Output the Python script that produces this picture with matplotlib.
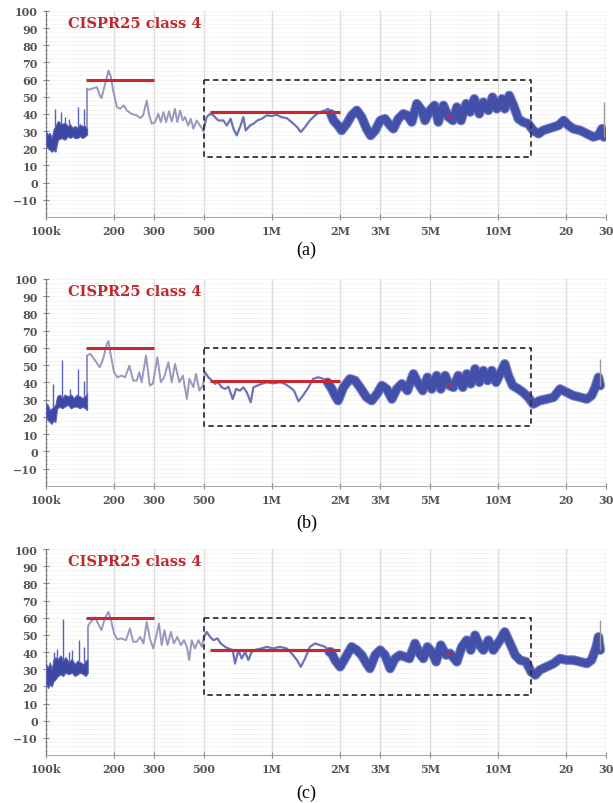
import matplotlib.pyplot as plt
import numpy as np
from matplotlib.ticker import MultipleLocator, NullFormatter

# frequencies in kHz, levels in dBuV
freq_ticks = [100, 200, 300, 500, 1000, 2000, 3000, 5000, 10000, 20000, 30000]
freq_labels = ['100k', '200', '300', '500', '1M', '2M', '3M', '5M', '10M', '20', '30']
level_ticks = list(range(-10, 101, 10))

# CISPR25 class 4 limit segments
limit_start = [150, 530, 5900]
limit_stop = [300, 2000, 6200]
limit_level = [60, 41, 39]

# dashed region of interest
box_freq = [500, 14000]
box_level = [15, 60]

# ---------------- (a) ----------------
a_lf_f = [100, 102, 104, 106, 108, 110, 113, 117, 121, 125, 128, 131, 134, 138, 141, 145, 149, 152]
a_lf_lo = [22, 20, 19, 18, 19, 18, 25, 26, 25, 27, 26, 27, 26, 26, 27, 26, 27, 28]
a_lf_hi = [30, 28, 29, 26, 31, 33, 36, 34, 35, 33, 34, 32, 33, 32, 34, 33, 33, 32]
a_spk_f = [110, 117, 122, 127, 139, 148]
a_spk_v = [43, 41, 38, 37, 44, 43]
a_mid_f = [152, 154, 162, 168, 173, 176, 182, 189, 193, 199, 206, 213, 221, 228, 239, 252, 261,
           269, 279, 286, 294, 304, 314, 322, 331, 340, 350, 360, 372, 381, 392, 403, 412, 426,
           437, 449, 464, 480, 497, 514, 532, 550, 578, 609, 631, 656, 675, 698, 722, 747, 765,
           799, 827, 861, 900, 948, 997, 1050, 1100, 1160, 1220, 1290, 1340, 1400, 1470, 1550,
           1630, 1720, 1770, 1820]
a_mid_v = [54.7, 54.1, 55, 55.6, 50.8, 49.2, 56.6, 65.3, 62.4, 52.7, 44, 43, 45, 42, 40.1, 39.2,
           37.6, 39.2, 47.9, 39.2, 34.3, 35.3, 40.1, 35.3, 41.1, 35.3, 41.5, 35.6, 43, 35.3, 42,
           36.2, 38.2, 33.3, 37.2, 31.4, 36.2, 33.3, 30.4, 38.2, 40.1, 39.2, 36.2, 36.2, 33.3,
           37.2, 31.4, 27.5, 32.4, 38.2, 30.4, 33.3, 34.3, 36.2, 37.2, 39.2, 38.8, 39.5, 38.2,
           37.6, 35.3, 32.4, 29.5, 32.4, 36.2, 39.2, 41.1, 42.1, 43, 40.1]
a_hf_f = [1820, 1870, 1960, 2030, 2140, 2250, 2370, 2490, 2620, 2730, 2860, 3010, 3160, 3330,
          3440, 3620, 3810, 3970, 4150, 4370, 4600, 4750, 5000, 5230, 5440, 5730, 6030, 6310,
          6570, 6860, 7220, 7520, 7850, 8260, 8610, 9060, 9440, 9870, 10400, 10700, 11200,
          11700, 12300, 12900, 13600, 14300, 15100, 15800, 16700, 17600, 18500, 19500, 20500,
          21500, 23100, 24700, 26400, 27800, 28800, 29400]
a_hf_v = [40.1, 36.2, 33.3, 30.4, 34.3, 39.2, 42.1, 38.2, 31.4, 27.5, 30.4, 36.2, 37.2, 33.3,
          31.4, 37.2, 40.1, 39.2, 35.3, 46, 42.1, 36.2, 42.1, 45, 35.3, 45, 38.2, 36.2, 44,
          36.2, 46, 41.1, 48.8, 40.1, 46.9, 42.1, 49.8, 43, 48.8, 43, 50.8, 45, 37.2, 35.3,
          34.3, 30.4, 28.5, 30.4, 31.4, 32.4, 33.3, 36.2, 33.3, 31.4, 30.4, 28.5, 26.6, 27.5,
          31.4, 26.6]
a_tail_v = 47

# ---------------- (b) ----------------
b_lf_f = [100, 102, 104, 106, 108, 110, 112, 115, 118, 121, 125, 129, 133, 137, 141, 145, 149, 152]
b_lf_lo = [20, 18, 17, 16, 18, 17, 25, 26, 25, 26, 27, 25, 26, 26, 25, 26, 25, 24]
b_lf_hi = [28, 27, 24, 25, 26, 27, 32, 33, 31, 33, 32, 33, 31, 33, 32, 31, 32, 34]
b_spk_f = [107, 118, 128, 139, 148]
b_spk_v = [39, 53, 36, 48, 41]
b_mid_f = [152, 157, 165, 173, 179, 186, 189, 193, 200, 207, 216, 224, 234, 243, 252, 259, 265,
           277, 288, 297, 311, 322, 333, 348, 360, 372, 389, 403, 420, 431, 449, 461, 477, 494,
           505, 523, 541, 560, 578, 599, 620, 641, 670, 693, 722, 747, 773, 805, 827, 861, 900,
           948, 1010, 1085, 1140, 1200, 1250, 1310, 1370, 1450, 1520, 1600, 1690, 1760]
b_mid_v = [55.6, 56.6, 52.7, 48.8, 53.7, 62.4, 64, 56.6, 45.9, 43, 44, 43, 49.8, 41.1, 41.1,
           45.9, 40.1, 55.6, 38.2, 39.2, 54.7, 40.1, 43, 51.7, 40.1, 50.8, 40.1, 44, 30.4, 42.1,
           37.2, 45, 35.3, 38.2, 45.9, 43, 41.1, 39.2, 40.1, 37.2, 36.2, 37.6, 30.4, 36.2, 35.3,
           37.2, 34.3, 28.5, 37.2, 38.2, 39.2, 40.1, 39.5, 40.1, 39.2, 37.2, 35.3, 29.1, 32.4,
           37.2, 42.1, 43, 42.1, 40.1]
b_hf_f = [1760, 1840, 1900, 1960, 2070, 2210, 2330, 2450, 2620, 2760, 2910, 3060, 3220, 3390,
          3560, 3750, 3970, 4220, 4440, 4640, 4870, 5090, 5350, 5580, 5830, 6090, 6340, 6670,
          6980, 7270, 7570, 7910, 8260, 8610, 9000, 9380, 9800, 10200, 10700, 11100, 11600,
          12300, 12900, 13600, 14300, 15300, 16400, 17600, 18800, 20100, 21500, 23100, 24700,
          25900, 26900, 27800, 28300]
b_hf_v = [40.1, 36.2, 32.4, 29.5, 37.2, 42.1, 41.1, 37.2, 31.4, 29.5, 33.3, 38.2, 36.2, 30.4,
          36.2, 39.2, 35.3, 45, 39.2, 35.3, 43, 36.2, 44, 36.2, 44, 38.2, 37.2, 44, 37.2, 45,
          39.2, 47.9, 40.1, 46.9, 41.1, 46.9, 40.1, 45, 50.8, 44, 38.2, 36.2, 34.3, 31.4, 27.5,
          29.5, 30.4, 31.4, 36.2, 34.3, 32.4, 31.4, 30.4, 32.4, 37.2, 43, 38.2]
b_tail_v = 53.7

# ---------------- (c) ----------------
c_lf_f = [100, 102, 104, 106, 108, 110, 113, 116, 119, 122, 126, 130, 134, 138, 142, 146, 150, 153]
c_lf_lo = [22, 19, 21, 20, 23, 24, 26, 27, 26, 28, 27, 28, 26, 27, 28, 27, 26, 28]
c_lf_hi = [33, 31, 34, 30, 36, 37, 36, 38, 35, 37, 34, 36, 33, 35, 34, 33, 35, 36]
c_spk_f = [109, 112, 119, 126, 131, 140, 148]
c_spk_v = [40, 42, 59, 40, 41, 47, 43]
c_mid_f = [153, 154, 159, 165, 170, 176, 182, 189, 194, 200, 207, 216, 226, 235, 243, 252, 261,
           270, 279, 288, 298, 307, 316, 325, 334, 345, 357, 368, 381, 395, 408, 420, 430, 441,
           456, 472, 489, 500, 514, 532, 550, 573, 593, 620, 641, 670, 686, 710, 734, 760, 786,
           813, 855, 900, 948, 1010, 1085, 1160, 1220, 1290, 1340, 1400, 1470, 1550, 1630, 1720,
           1790]
c_mid_v = [52.7, 55.6, 58.1, 60.1, 56.6, 52.7, 59.5, 63.4, 58.5, 50.8, 47.3, 47.9, 46.9, 53.7,
           46, 46, 48.8, 45, 57.6, 47.9, 42.1, 48.8, 56.6, 44, 52.7, 44, 51.7, 45, 48.8, 44,
           46.9, 43, 35.3, 46.9, 42.1, 46.9, 43, 48.8, 51.7, 48.8, 46.9, 47.9, 45, 43, 42.1,
           41.1, 33.3, 41.1, 36.2, 40.1, 35.3, 40.1, 41.5, 42.1, 43, 42.1, 43, 42.1, 39.2, 35.3,
           31.4, 36.2, 43, 45, 44, 43, 40.1]
c_hf_f = [1790, 1820, 1900, 2000, 2100, 2250, 2370, 2490, 2620, 2710, 2860, 3010, 3160, 3330,
          3500, 3680, 3870, 4050, 4290, 4490, 4670, 4870, 5090, 5320, 5580, 5890, 6130, 6570,
          6910, 7270, 7570, 7910, 8260, 8610, 9060, 9530, 10200, 10700, 11300, 11900, 12500,
          13300, 14000, 14600, 15300, 16400, 17600, 18800, 20100, 21500, 23100, 24700, 25900,
          27200, 27800, 28300]
c_hf_v = [40.1, 40.1, 35.3, 31.4, 36.2, 43, 41.1, 38.2, 33.3, 30.4, 38.2, 41.1, 38.2, 30.4,
          36.2, 38.2, 37.2, 36.2, 45, 39.2, 36.2, 43, 40.1, 34.3, 44, 38.2, 39.2, 34.3, 43,
          46.9, 41.1, 49.8, 44, 41.1, 46.9, 41.1, 46.9, 51.7, 45, 38.2, 35.3, 34.3, 28.5, 26.6,
          29.5, 31.4, 33.3, 36.2, 35.3, 35.3, 34.3, 33.3, 35.3, 43, 48.8, 41.1]
c_tail_v = 58.5

plt.rcParams['font.family'] = ['DejaVu Serif']

fig = plt.figure(figsize=(6.13, 8.04), dpi=100)

panels = [
    ([0.075, 0.7289, 0.9135, 0.2562], 0.689, '(a)',
     a_lf_f, a_lf_lo, a_lf_hi, a_spk_f, a_spk_v, a_mid_f, a_mid_v, a_hf_f, a_hf_v, a_tail_v),
    ([0.075, 0.3943, 0.9135, 0.2575], 0.3495, '(b)',
     b_lf_f, b_lf_lo, b_lf_hi, b_spk_f, b_spk_v, b_mid_f, b_mid_v, b_hf_f, b_hf_v, b_tail_v),
    ([0.075, 0.0597, 0.9135, 0.2562], 0.0137, '(c)',
     c_lf_f, c_lf_lo, c_lf_hi, c_spk_f, c_spk_v, c_mid_f, c_mid_v, c_hf_f, c_hf_v, c_tail_v),
]

for rect, cap_y, cap, lf_f, lf_lo, lf_hi, spk_f, spk_v, mid_f, mid_v, hf_f, hf_v, tail_v in panels:
    ax = fig.add_axes(rect)
    ax.set_xscale('log')
    ax.set_xlim(100, 30000)
    ax.set_ylim(-20, 100)

    ax.set_xticks(freq_ticks)
    ax.set_xticklabels(freq_labels)
    ax.xaxis.set_minor_formatter(NullFormatter())
    ax.tick_params(axis='x', which='minor', length=0)
    ax.set_yticks(level_ticks)
    ax.yaxis.set_minor_locator(MultipleLocator(2.5))
    ax.grid(axis='x', which='major', color='#dcdcdc', lw=1.0)
    ax.grid(axis='y', which='both', color='#e4e4e4', lw=0.7, ls=':')
    ax.set_axisbelow(True)

    for s in ['top', 'right']:
        ax.spines[s].set_visible(False)
    ax.spines['left'].set_color('#777777')
    ax.spines['bottom'].set_color('#aaaaaa')
    ax.tick_params(axis='both', which='major', direction='inout', length=4, color='#888888',
                   labelsize=8, labelcolor='#555555', pad=4)
    ax.tick_params(axis='y', which='minor', direction='inout', length=2, color='#999999')
    for lbl in ax.get_xticklabels() + ax.get_yticklabels():
        lbl.set_fontweight('bold')

    # low-frequency noise floor and spikes
    ax.fill_between(lf_f, lf_lo, lf_hi, color='#3d48a5', edgecolor='#5a63b5', lw=0.8, zorder=3)
    base = np.interp(spk_f, lf_f, lf_hi)
    ax.vlines(spk_f, base, spk_v, color='#5a62b2', lw=1.0, zorder=3)
    ax.plot([lf_f[-1], mid_f[0]], [lf_hi[-1], mid_v[0]], color='#7f86bd', lw=1.2, zorder=3)

    # thin trace 150k - 1.8M
    mid_f = np.array(mid_f)
    mid_v = np.array(mid_v)
    lw_part = mid_f <= 510
    mw_part = mid_f >= 497
    ax.plot(mid_f[lw_part], mid_v[lw_part], color='#9799bd', lw=1.4, zorder=3)
    ax.plot(mid_f[mw_part], mid_v[mw_part], color='#6b73b8', lw=1.6, zorder=3)

    # dense band 1.8M - 30M
    ax.plot(hf_f, hf_v, color='#7d84c8', lw=7.0, solid_joinstyle='round',
            solid_capstyle='round', zorder=3)
    ax.plot(hf_f, hf_v, color='#4250aa', lw=5.5, solid_joinstyle='round',
            solid_capstyle='round', zorder=3)
    ax.vlines(hf_f[-1], hf_v[-1], tail_v, color='#9a9a9a', lw=1.0, zorder=3)

    # limits and box
    ax.hlines(limit_level, limit_start, limit_stop, color='#c8282e', lw=2.2, zorder=5)
    ax.plot([box_freq[0], box_freq[1], box_freq[1], box_freq[0], box_freq[0]],
            [box_level[1], box_level[1], box_level[0], box_level[0], box_level[1]],
            color='#333333', lw=1.3, ls=(0, (3, 2)), zorder=6)

    ax.text(0.039, 0.942, 'CISPR25 class 4', transform=ax.transAxes, color='#c0282d',
            fontweight='bold', fontsize=10.5, va='center', ha='left')

    fig.text(0.5, cap_y, cap, ha='center', va='center', fontsize=13,
             family='Liberation Serif')

fig.savefig('out.png', dpi=100)
